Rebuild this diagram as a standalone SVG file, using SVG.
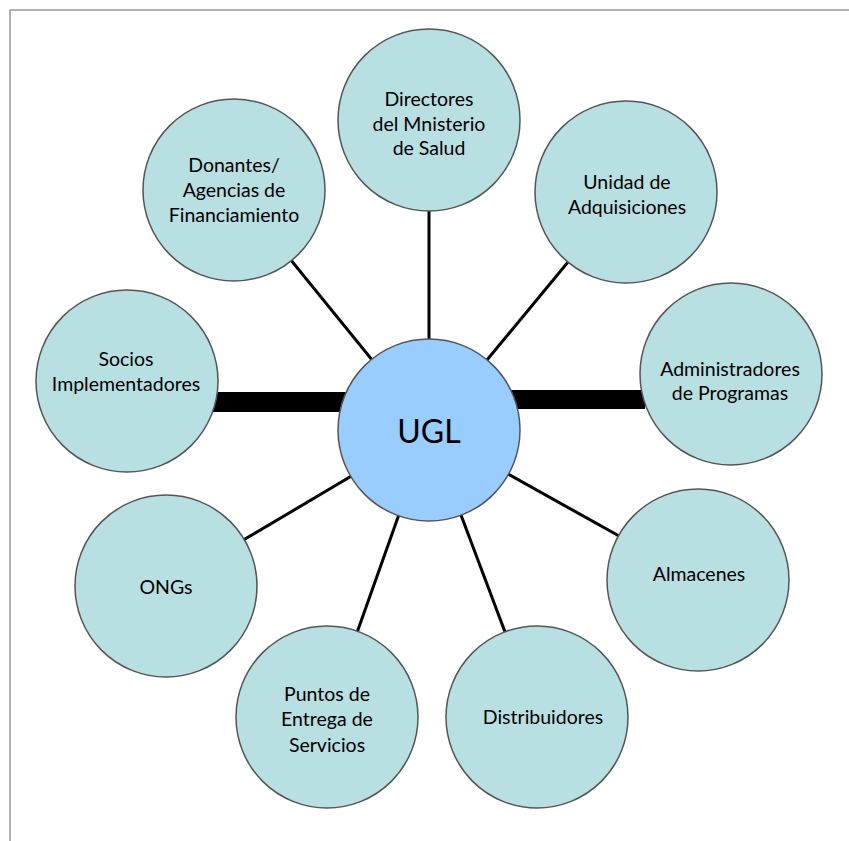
<svg xmlns="http://www.w3.org/2000/svg" width="849" height="841" viewBox="0 0 849 841">
<style>
.frame{stroke:#9a9a9a;stroke-width:1.5;fill:none}
.node{fill:#b8dfe2;stroke:#555;stroke-width:1.5}
.hub{fill:#99ccff;stroke:#555;stroke-width:1.5}
.link{stroke:#000;stroke-width:3;fill:none}
.bar{fill:#000}
text{font-family:Lato,"Open Sans","Liberation Sans",sans-serif;font-size:19.5px;fill:#000;text-anchor:middle;dominant-baseline:central}
.big{font-size:32px}
</style>
<rect width="849" height="841" fill="#fff"/>
<path class="frame" d="M10,841 V10 H849"/>
<g id="connectors">
<line class="link" x1="429" y1="430" x2="429" y2="120"/>
<line class="link" x1="429" y1="430" x2="626" y2="192"/>
<line class="link" x1="429" y1="430" x2="698" y2="580"/>
<line class="link" x1="429" y1="430" x2="537" y2="717"/>
<line class="link" x1="429" y1="430" x2="327" y2="717"/>
<line class="link" x1="429" y1="430" x2="166" y2="586"/>
<line class="link" x1="429" y1="430" x2="234" y2="190"/>
<rect class="bar" x="210" y="392" width="140" height="20"/>
<rect class="bar" x="510" y="390" width="135" height="19"/>
</g>
<g id="directores"><circle class="node" cx="429" cy="120" r="91"/><text x="429" y="98">Directores</text><text x="429" y="123">del Mnisterio</text><text x="429" y="147">de Salud</text></g>
<g id="unidad"><circle class="node" cx="626" cy="192" r="91"/><text x="627" y="181">Unidad de</text><text x="627" y="206">Adquisiciones</text></g>
<g id="administradores"><circle class="node" cx="731" cy="374" r="91"/><text x="730" y="368">Administradores</text><text x="730" y="392">de Programas</text></g>
<g id="almacenes"><circle class="node" cx="698" cy="580" r="91"/><text x="699" y="573">Almacenes</text></g>
<g id="distribuidores"><circle class="node" cx="537" cy="717" r="91"/><text x="543" y="716">Distribuidores</text></g>
<g id="puntos"><circle class="node" cx="327" cy="717" r="91"/><text x="327" y="693">Puntos de</text><text x="327" y="718">Entrega de</text><text x="327" y="744">Servicios</text></g>
<g id="ongs"><circle class="node" cx="166" cy="586" r="91"/><text x="166" y="586">ONGs</text></g>
<g id="socios"><circle class="node" cx="127" cy="381" r="91"/><text x="126" y="358">Socios</text><text x="126" y="383">Implementadores</text></g>
<g id="donantes"><circle class="node" cx="234" cy="190" r="91"/><text x="234" y="164">Donantes/</text><text x="234" y="189">Agencias de</text><text x="234" y="214">Financiamiento</text></g>
<g id="ugl"><circle class="hub" cx="429" cy="430" r="91"/><text class="big" x="429" y="430">UGL</text></g>
</svg>
